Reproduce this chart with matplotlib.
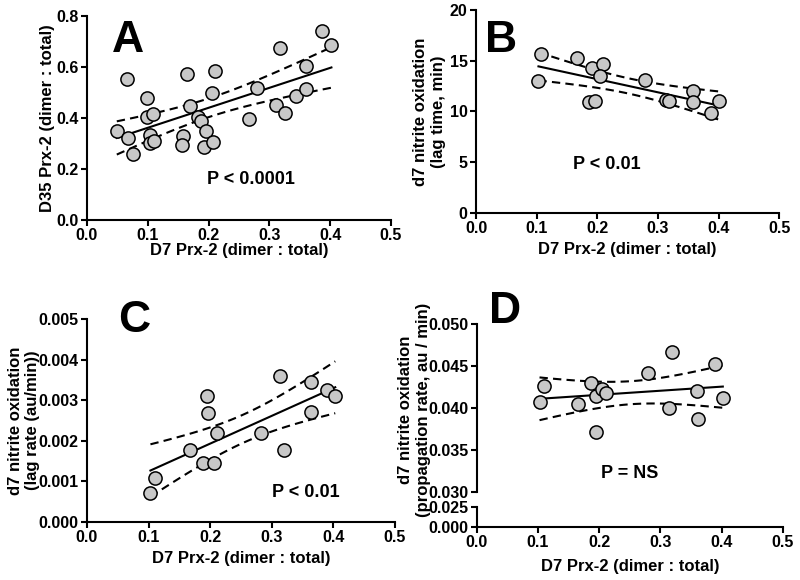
import numpy as np
import matplotlib
matplotlib.use("Agg")
import matplotlib.pyplot as plt

plt.rcParams['font.family'] = ['Liberation Sans', 'DejaVu Sans']
plt.rcParams['font.weight'] = 'bold'
plt.rcParams['axes.labelweight'] = 'bold'

# ---- data ----
# Panel A: D7 vs D35 Prx-2
a_x = [0.049, 0.065, 0.067, 0.075, 0.098, 0.098, 0.108, 0.104, 0.103, 0.110,
       0.158, 0.157, 0.165, 0.169, 0.183, 0.187, 0.195, 0.193, 0.205, 0.207,
       0.210, 0.266, 0.279, 0.311, 0.318, 0.325, 0.344, 0.361, 0.361, 0.387, 0.402]
a_y = [0.349, 0.553, 0.323, 0.259, 0.480, 0.405, 0.416, 0.333, 0.301, 0.310,
       0.331, 0.294, 0.573, 0.447, 0.405, 0.388, 0.350, 0.288, 0.499, 0.305,
       0.584, 0.397, 0.519, 0.452, 0.676, 0.418, 0.488, 0.603, 0.515, 0.741, 0.686]

# Panel B: lag time
b_x = [0.108, 0.103, 0.166, 0.192, 0.209, 0.204, 0.186, 0.196,
       0.279, 0.313, 0.319, 0.358, 0.358, 0.387, 0.401]
b_y = [15.64, 13.05, 15.25, 14.26, 14.66, 13.51, 10.98, 11.08,
       13.11, 11.15, 11.05, 12.03, 10.98, 9.84, 11.08]

# Panel C: lag rate
c_x = [0.103, 0.110, 0.167, 0.189, 0.195, 0.196, 0.206, 0.211,
       0.282, 0.314, 0.320, 0.363, 0.363, 0.389, 0.403]
c_y = [0.00071, 0.00108, 0.00178, 0.00145, 0.00310, 0.00268, 0.00145, 0.00218,
       0.00219, 0.00359, 0.00178, 0.00346, 0.00270, 0.00326, 0.00310]

# Panel D: propagation rate
d_x = [0.1025, 0.109, 0.165, 0.187, 0.195, 0.195, 0.205, 0.211,
       0.280, 0.314, 0.319, 0.360, 0.362, 0.389, 0.402]
d_y = [0.04072, 0.04267, 0.04048, 0.04303, 0.04143, 0.03709, 0.04223, 0.04183,
       0.04414, 0.04004, 0.04665, 0.04207, 0.03865, 0.04522, 0.04116]

x_ticks = [0.0, 0.1, 0.2, 0.3, 0.4, 0.5]
x_title = "D7 Prx-2 (dimer : total)"

# two-sided 95% t values by degrees of freedom
T_CRIT = {13: 2.160, 29: 2.045}

MARKER_FACE = '#c8c8c8'
LW = 1.5
TICK_SIZE = 11.5
LABEL_SIZE = 12


def fit_band(x, y):
    """Least squares line with 95% confidence band over the x range of the data."""
    x = np.asarray(x)
    y = np.asarray(y)
    n = len(x)
    slope, icpt = np.polyfit(x, y, 1)
    resid = y - (slope * x + icpt)
    s = np.sqrt(np.sum(resid ** 2) / (n - 2))
    xs = np.linspace(x.min(), x.max(), 100)
    ys = slope * xs + icpt
    se = s * np.sqrt(1.0 / n + (xs - x.mean()) ** 2 / np.sum((x - x.mean()) ** 2))
    half = T_CRIT[n - 2] * se
    return xs, ys, ys - half, ys + half


def style_axis(ax):
    ax.spines['top'].set_visible(False)
    ax.spines['right'].set_visible(False)
    for side in ('left', 'bottom'):
        ax.spines[side].set_linewidth(LW)
    ax.tick_params(width=LW, length=4, labelsize=TICK_SIZE, pad=2)
    for lab in ax.get_xticklabels() + ax.get_yticklabels():
        lab.set_fontweight('bold')


def draw_data(ax, x, y):
    xs, ys, lo, hi = fit_band(x, y)
    ax.plot(xs, ys, color='black', lw=LW, zorder=2)
    ax.plot(xs, lo, color='black', lw=LW, dashes=(4, 2.5), zorder=2)
    ax.plot(xs, hi, color='black', lw=LW, dashes=(4, 2.5), zorder=2)
    ax.plot(x, y, 'o', ms=9.5, mfc=MARKER_FACE, mec='black', mew=1.1, zorder=3)


def x_axis(ax, pad):
    ax.set_xlim(0, 0.5)
    ax.set_xticks(x_ticks)
    ax.set_xticklabels(['%.1f' % v for v in x_ticks])
    ax.set_xlabel(x_title, fontsize=LABEL_SIZE, labelpad=pad)


fig = plt.figure(figsize=(8, 5.8), dpi=100)

# ---- A ----
ax = fig.add_axes([0.10875, 0.6207, 0.38, 0.3517])
draw_data(ax, a_x, a_y)
x_axis(ax, 0)
ax.set_ylim(0, 0.8)
ax.set_yticks([0, 0.2, 0.4, 0.6, 0.8])
ax.set_yticklabels(['0.0', '0.2', '0.4', '0.6', '0.8'])
ax.set_ylabel("D35 Prx-2 (dimer : total)", fontsize=LABEL_SIZE, labelpad=1)
style_axis(ax)
ax.text(0.082, 0.824, 'A', transform=ax.transAxes, fontsize=32, fontweight='bold')
ax.text(0.54, 0.2, 'P < 0.0001', transform=ax.transAxes, fontsize=13,
        fontweight='bold', ha='center', va='center')

# ---- B ----
ax = fig.add_axes([0.595, 0.6328, 0.379, 0.35])
draw_data(ax, b_x, b_y)
x_axis(ax, 4)
ax.set_ylim(0, 20)
ax.set_yticks([0, 5, 10, 15, 20])
ax.set_ylabel("d7 nitrite oxidation\n(lag time, min)", fontsize=LABEL_SIZE, labelpad=3)
style_axis(ax)
ax.text(0.03, 0.793, 'B', transform=ax.transAxes, fontsize=32, fontweight='bold')
ax.text(0.43, 0.24, 'P < 0.01', transform=ax.transAxes, fontsize=13,
        fontweight='bold', ha='center', va='center')

# ---- C ----
ax = fig.add_axes([0.10875, 0.1, 0.385, 0.35])
draw_data(ax, c_x, c_y)
x_axis(ax, 4)
ax.set_ylim(0, 0.005)
c_ticks = [0, 0.001, 0.002, 0.003, 0.004, 0.005]
ax.set_yticks(c_ticks)
ax.set_yticklabels(['%.3f' % v for v in c_ticks])
ax.set_ylabel("d7 nitrite oxidation\n(lag rate (au/min))", fontsize=LABEL_SIZE, labelpad=-1)
style_axis(ax)
ax.text(0.10, 0.936, 'C', transform=ax.transAxes, fontsize=32, fontweight='bold')
ax.text(0.71, 0.145, 'P < 0.01', transform=ax.transAxes, fontsize=13,
        fontweight='bold', ha='center', va='center')

# ---- D (broken y axis) ----
ax_top = fig.add_axes([0.596, 0.1517, 0.3825, 0.2897])
ax_bot = fig.add_axes([0.596, 0.0914, 0.3825, 0.0345], sharex=ax_top)
draw_data(ax_top, d_x, d_y)
ax_top.set_ylim(0.030, 0.050)
d_ticks = [0.030, 0.035, 0.040, 0.045, 0.050]
ax_top.set_yticks(d_ticks)
ax_top.set_yticklabels(['%.3f' % v for v in d_ticks])
style_axis(ax_top)
ax_top.spines['bottom'].set_visible(False)
ax_top.tick_params(axis='x', bottom=False, labelbottom=False)

x_axis(ax_bot, 6)
ax_bot.set_ylim(0, 0.025)
ax_bot.set_yticks([0, 0.025])
ax_bot.set_yticklabels(['0.000', '0.025'])
style_axis(ax_bot)

fig.text(0.518, 0.293, "d7 nitrite oxidation\n(propagation rate, au / min)",
         fontsize=LABEL_SIZE, fontweight='bold', rotation=90,
         ha='center', va='center', multialignment='center')
ax_top.text(0.04, 1.006, 'D', transform=ax_top.transAxes, fontsize=32, fontweight='bold')
ax_top.text(0.50, 0.11, 'P = NS', transform=ax_top.transAxes, fontsize=13,
            fontweight='bold', ha='center', va='center')

fig.savefig('out.png', dpi=100)
